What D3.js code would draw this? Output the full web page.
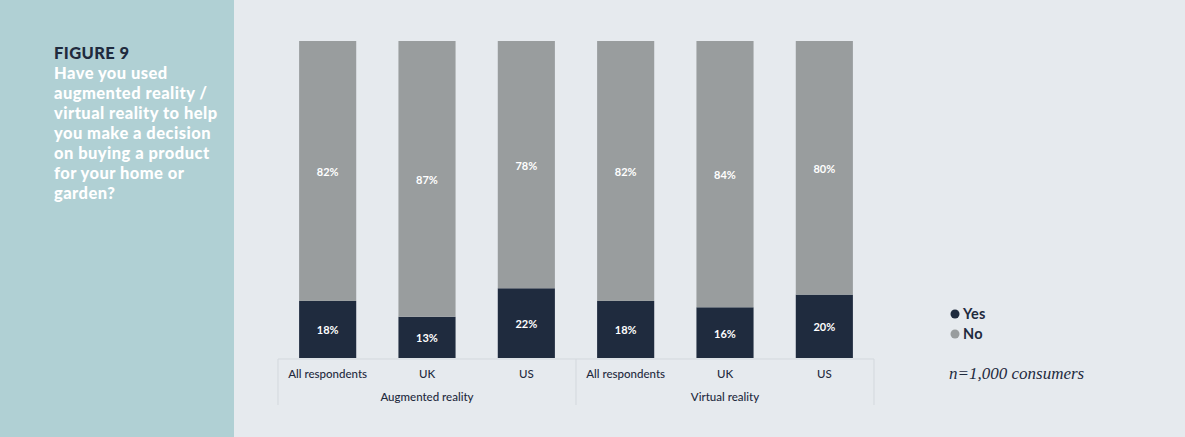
<!DOCTYPE html>
<html><head><meta charset="utf-8">
<script src="https://cdn.jsdelivr.net/npm/d3@7"></script>
<style>
html,body{margin:0;padding:0;background:#e6eaee;}
svg{display:block;}
</style></head>
<body>
<svg id="chart" width="1185" height="437"></svg>
<script>
const categories = ["All respondents","UK","US","All respondents","UK","US"];
const groups = ["Augmented reality","Virtual reality"];
const groupOf = [0,0,0,1,1,1];
const yesValues = [18,13,22,18,16,20];
const noValues = [82,87,78,82,84,80];
const seriesNames = ["Yes","No"];
const colors = {Yes:"#1f2b3e", No:"#999d9e"};
const titleLines = ["Have you used","augmented reality /","virtual reality to help","you make a decision","on buying a product","for your home or","garden?"];

(function(){
const svg = d3.select("#chart");
svg.append("rect").attr("x",0).attr("y",0).attr("width",1185).attr("height",437).attr("fill","#e6eaee");
svg.append("rect").attr("x",0).attr("y",0).attr("width",234).attr("height",437).attr("fill","#b0d0d4");

const font = "Lato, 'Open Sans', sans-serif";
svg.append("text").attr("x",54).attr("y",59).text("FIGURE 9")
  .attr("font-family",font).attr("font-weight",900).attr("font-size",16.5).attr("letter-spacing",0.4).attr("fill","#1f2b3e");
svg.append("g").selectAll("text").data(titleLines).join("text")
  .attr("x",54).attr("y",(d,i)=>79+i*20).text(d=>d)
  .attr("font-family",font).attr("font-weight",900).attr("font-size",16.5).attr("letter-spacing",0.45).attr("fill","#ffffff");

const pLeft=278, pRight=874, pTop=41, pBottom=358;
const x = d3.scaleBand().domain(d3.range(categories.length)).range([pLeft,pRight]).paddingInner(0.425).paddingOuter(0.2125);
const y = d3.scaleLinear().domain([0,100]).range([pBottom,pTop]);

const data = categories.map((c,i)=>({i, Yes:yesValues[i], No:noValues[i]}));
const stack = d3.stack().keys(seriesNames)(data);

const g = svg.append("g");
stack.forEach(layer=>{
  const key = layer.key;
  g.selectAll(null).data(layer).join("rect")
    .attr("x",d=>x(d.data.i)).attr("width",x.bandwidth())
    .attr("y",d=>y(d[1])).attr("height",d=>y(d[0])-y(d[1]))
    .attr("fill",colors[key]);
  g.selectAll(null).data(layer).join("text")
    .attr("x",d=>x(d.data.i)+x.bandwidth()/2)
    .attr("y",d=>(y(d[0])+y(d[1]))/2+5)
    .attr("text-anchor","middle").text(d=>d.data[key]+"%")
    .attr("font-family",font).attr("font-weight",700).attr("font-size",11).attr("fill","#ffffff");
});

const axisColor = "#d3d8dd";
svg.append("line").attr("x1",pLeft).attr("x2",pRight).attr("y1",pBottom+1).attr("y2",pBottom+1).attr("stroke",axisColor).attr("stroke-width",1);
const sepX = [pLeft, (pLeft+pRight)/2, pRight];
svg.append("g").selectAll("line").data(sepX).join("line")
  .attr("x1",d=>d).attr("x2",d=>d).attr("y1",pBottom+1).attr("y2",405).attr("stroke",axisColor).attr("stroke-width",1);

svg.append("g").selectAll("text").data(categories).join("text")
  .attr("x",(d,i)=>x(i)+x.bandwidth()/2).attr("y",378).attr("text-anchor","middle").text(d=>d)
  .attr("font-family",font).attr("font-weight",500).attr("font-size",11.5).attr("fill","#1f2b3e");
svg.append("g").selectAll("text").data(groups).join("text")
  .attr("x",(d,gi)=>{const idx=d3.range(categories.length).filter(i=>groupOf[i]===gi);return (x(idx[0])+x(idx[idx.length-1])+x.bandwidth())/2;})
  .attr("y",401).attr("text-anchor","middle").text(d=>d)
  .attr("font-family",font).attr("font-weight",500).attr("font-size",11.5).attr("fill","#1f2b3e");

const lg = svg.append("g");
seriesNames.forEach((s,i)=>{
  lg.append("circle").attr("cx",955).attr("cy",314+i*20).attr("r",4.5).attr("fill",colors[s]);
  lg.append("text").attr("x",963).attr("y",319+i*20).text(s)
    .attr("font-family",font).attr("font-weight",700).attr("font-size",14.5).attr("letter-spacing",0.3).attr("fill","#1f2b3e");
});
svg.append("text").attr("x",949).attr("y",379).text("n=1,000 consumers")
  .attr("font-family","'Liberation Serif', 'DejaVu Serif', serif").attr("font-style","italic").attr("font-size",17).attr("fill","#1f2b3e");
})();
</script>
</body></html>
